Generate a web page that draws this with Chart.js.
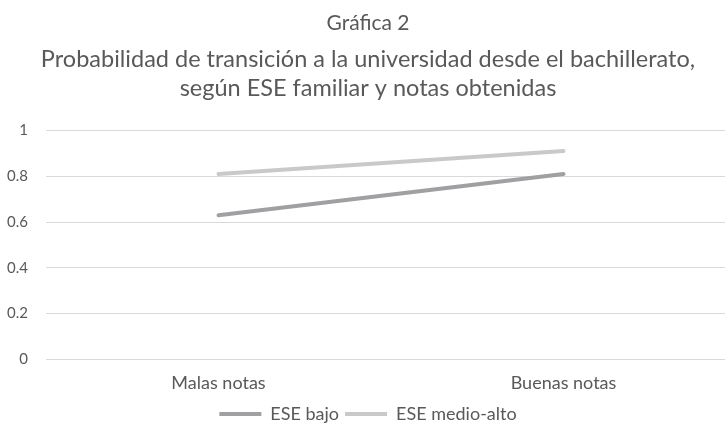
<!DOCTYPE html>
<html>
<head>
<meta charset="utf-8">
<script src="https://cdn.jsdelivr.net/npm/chart.js@4/dist/chart.umd.min.js"></script>
<style>
  html, body { margin: 0; padding: 0; background: #fff; overflow: hidden; }
  /* el original está recortado a la derecha: lienzo algo más ancho */
  #wrap { width: 736px; height: 433px; }
</style>
</head>
<body>
<div id="wrap"><canvas id="chart"></canvas></div>
<script>
// datos de la gráfica
const categories = ['Malas notas', 'Buenas notas'];
const eseBajo = [0.63, 0.81];
const eseMedioAlto = [0.81, 0.91];
const yTicks = [0, 0.2, 0.4, 0.6, 0.8, 1];

const FONT = 'Lato';
const TEXT = '#595959';

new Chart(document.getElementById('chart'), {
    type: 'line',
    data: {
        labels: categories,
        datasets: [
            {
                label: 'ESE bajo',
                data: eseBajo,
                borderColor: '#a0a0a3',
                backgroundColor: '#a0a0a3',
                borderWidth: 4,
                borderCapStyle: 'round',
                pointRadius: 0
            },
            {
                label: 'ESE medio-alto',
                data: eseMedioAlto,
                borderColor: '#c9c9c9',
                backgroundColor: '#c9c9c9',
                borderWidth: 4,
                borderCapStyle: 'round',
                pointRadius: 0
            }
        ]
    },
    options: {
        responsive: true,
        maintainAspectRatio: false,
        animation: false,
        layout: { padding: { left: 0, right: 0, top: 2, bottom: 0 } },
        scales: {
            x: {
                offset: true,
                grid: { display: false },
                border: { display: false },
                ticks: { color: TEXT, font: { family: FONT, size: 18 }, padding: 5, maxRotation: 0 }
            },
            y: {
                min: 0,
                max: 1,
                afterBuildTicks: (scale) => { scale.ticks = yTicks.map(v => ({ value: v })); },
                afterFit: (scale) => { scale.width = 46; },
                grid: { color: '#d9d9d9', lineWidth: 1, drawTicks: false },
                border: { display: false },
                ticks: {
                    color: TEXT,
                    font: { family: FONT, size: 15 },
                    padding: 18,
                    callback: (v) => String(v)
                }
            }
        },
        plugins: {
            title: {
                display: true,
                text: 'Gráfica 2',
                color: TEXT,
                font: { family: FONT, size: 21, weight: 'normal', lineHeight: 1.2 },
                padding: { top: 9, bottom: 9 }
            },
            subtitle: {
                display: true,
                text: ['Probabilidad de transición a la universidad desde el bachillerato,', 'según ESE familiar y notas obtenidas'],
                color: TEXT,
                font: { family: FONT, size: 23.5, weight: 'normal', lineHeight: 1.24 },
                padding: { top: 0, bottom: 27 }
            },
            legend: {
                position: 'bottom',
                labels: {
                    color: TEXT,
                    font: { family: FONT, size: 18 },
                    usePointStyle: true,
                    pointStyle: 'line',
                    pointStyleWidth: 42,
                    padding: 6
                }
            },
            tooltip: { enabled: false }
        }
    }
});
</script>
</body>
</html>
